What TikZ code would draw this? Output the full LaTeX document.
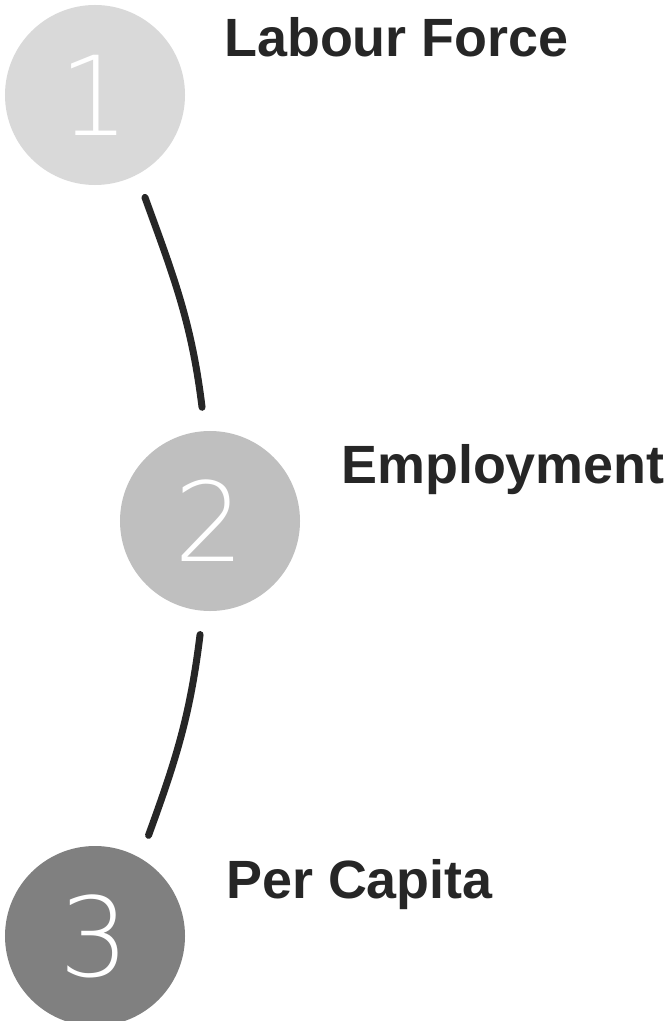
\documentclass[tikz,border=0pt]{standalone}
\usepackage{fontspec}
\setmainfont{Liberation Sans}
\newfontfamily\digitfont{DejaVu Sans ExtraLight}
\usepackage{xcolor}
\usepackage{tikz}
\usetikzlibrary{arrows.meta,positioning}

\definecolor{stepone}{HTML}{D9D9D9}
\definecolor{steptwo}{HTML}{BFBFBF}
\definecolor{stepthree}{HTML}{808080}
\definecolor{ink}{HTML}{262626}

\begin{document}
\begin{tikzpicture}[
    x=0.03cm, y=0.03cm,
    stepdot/.style={circle, minimum size=5.4cm, inner sep=0pt, outer sep=0.72cm, text=white, font=\digitfont\fontsize{94}{94}\selectfont},
    steplabel/.style={anchor=base west, inner sep=0pt, text=ink, font=\bfseries\fontsize{46}{55}\selectfont},
    link/.style={line width=6pt, draw=ink, line cap=round}
]
    \useasboundingbox (0,-1021) rectangle (667,0);

    % Steps
    \node[stepdot, fill=stepone] (one) at (95,-95) {1};
    \node[stepdot, fill=steptwo] (two) at (210,-521) {2};
    \node[stepdot, fill=stepthree] (three) at (95,-936) {3};

    % Labels
    \node[steplabel] (labour) at (224,-57) {Labour Force};
    \node[steplabel] (employment) at (341,-483) {Employment};
    \node[steplabel] (percapita) at (226,-898) {Per Capita};

    % Links
    \draw[link] (one.-64) to[out=-70, in=97] (two.94);
    \draw[link] (two.-95) to[out=-97, in=70] (three.62);

\end{tikzpicture}
\end{document}
